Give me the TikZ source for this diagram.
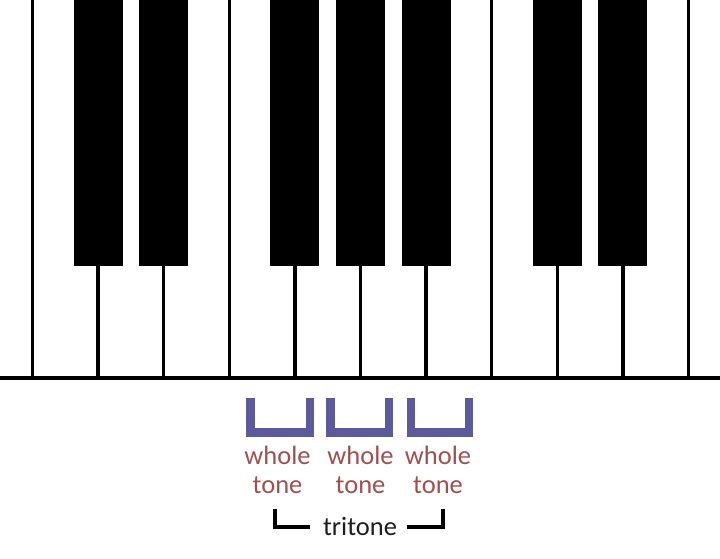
\documentclass[tikz,border=0pt]{standalone}
\usepackage{fontspec}
\setmainfont{Carlito}
\definecolor{brk}{HTML}{5B5A9C}
\definecolor{lbl}{HTML}{A0504E}
\definecolor{tri}{HTML}{1E1E1E}
\begin{document}
\begin{tikzpicture}[x=1pt,y=-1pt,
  keyline/.style={line width=3.5pt},
  blackkey/.style={fill=black},
  tonebr/.style={draw=brk,line width=8.5pt},
  tribr/.style={draw=black,line width=4.5pt},
  lab/.style={text=lbl,font=\fontsize{26.5}{29}\selectfont,align=center,inner sep=0pt,anchor=base},
  trilab/.style={text=tri,font=\fontsize{26.5}{29}\selectfont,inner sep=0pt,anchor=base}]
\useasboundingbox[fill=white] (0,0) rectangle (720,559);
% white key separators
\foreach \i in {0,...,10}{
  \draw[keyline] ({32.5+65.6*\i},0) -- ({32.5+65.6*\i},378);
}
% black keys
\foreach \c in {98.1,163.7,294.9,360.5,426.1,557.3,622.9}{
  \fill[blackkey] ({\c-24.5},0) rectangle ({\c+24.5},266);
}
% bottom edge
\draw[line width=4.4pt] (0,378) -- (720,378);
% whole tone brackets
\foreach \l/\r in {250.5/309.8, 330.5/389, 411/469}{
  \draw[tonebr] (\l,398) -- (\l,432.7) -- (\r,432.7) -- (\r,398);
}
\node[lab] (w1) at (277.5,493) {whole\\tone};
\node[lab] (w2) at (360.5,493) {whole\\tone};
\node[lab] (w3) at (438,493) {whole\\tone};
% tritone
\node[trilab] (tt) at (360,535) {tritone};
\coordinate (lt) at (274.8,509);
\coordinate (rt) at (442.8,509);
\draw[tribr] (lt) -- (274.8,526.8) -- (310,526.8);
\draw[tribr] (406.5,526.8) -- (442.8,526.8) -- (rt);
\end{tikzpicture}
\end{document}
